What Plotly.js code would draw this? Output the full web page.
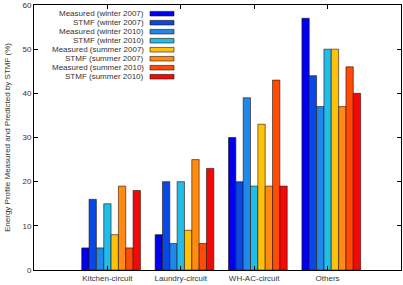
<!DOCTYPE html>
<html>
<head>
<meta charset="utf-8">
<script src="https://cdn.plot.ly/plotly-3.0.1.min.js"></script>
<style>
  html, body { margin: 0; padding: 0; background: #fff; }
  #chart { width: 403px; height: 285px; }
</style>
</head>
<body>
<div id="chart"></div>
<script>
// Circuit categories along the x axis
const categories = ["Kitchen-circuit", "Laundry-circuit", "WH-AC-circuit", "Others"];

// Energy profile share (%) per circuit
const measuredWinter2007 = [5, 8, 30, 57];
const stmfWinter2007     = [16, 20, 20, 44];
const measuredWinter2010 = [5, 6, 39, 37];
const stmfWinter2010     = [15, 20, 19, 50];
const measuredSummer2007 = [8, 9, 33, 50];
const stmfSummer2007     = [19, 25, 19, 37];
const measuredSummer2010 = [5, 6, 43, 46];
const stmfSummer2010     = [18, 23, 19, 40];

const seriesNames = [
  "Measured (winter 2007)", "STMF (winter 2007)",
  "Measured (winter 2010)", "STMF (winter 2010)",
  "Measured (summer 2007)", "STMF (summer 2007)",
  "Measured (summer 2010)", "STMF (summer 2010)"
];
const seriesValues = [
  measuredWinter2007, stmfWinter2007, measuredWinter2010, stmfWinter2010,
  measuredSummer2007, stmfSummer2007, measuredSummer2010, stmfSummer2010
];
const seriesColors = [
  "#0000f0", "#0848e6", "#1e88ec", "#22bce8",
  "#ffc20a", "#ff8a14", "#ff4a08", "#f00a0a"
];

const yTicks = [0, 10, 20, 30, 40, 50, 60];

const xIdx = categories.map((_, i) => i);
const barW = 0.1;
const textColor = "#333";
const fontFamily = "Liberation Sans, Arial, sans-serif";

const traces = seriesValues.map((vals, s) => ({
  type: "bar",
  name: seriesNames[s],
  x: xIdx,
  y: vals,
  width: barW,
  offset: -0.35 + barW * s,
  marker: { color: seriesColors[s], line: { color: "rgba(40,20,0,0.75)", width: 0.8 } },
  showlegend: false,
  hoverinfo: "skip"
}));

// Key drawn in the upper-left corner: right-aligned labels followed by colour boxes
const annotations = [];
const shapes = [];
const W = 403, H = 285;
const mL = 34, mR = 2, mT = 5, mB = 15;
const keyTextX = 146, keyBoxX0 = 150, keyBoxX1 = 174, keyTop = 13.7, keyStep = 9;
const px2x = px => (px - mL) / (W - mL - mR);
const px2y = py => 1 - (py - mT) / (H - mT - mB);
seriesNames.forEach((name, s) => {
  const yc = keyTop + keyStep * s;
  annotations.push({
    xref: "paper", yref: "paper",
    x: px2x(keyTextX), y: px2y(yc),
    xanchor: "right", yanchor: "middle",
    text: name, showarrow: false,
    font: { family: fontFamily, size: 8, color: textColor }
  });
  shapes.push({
    type: "rect", xref: "paper", yref: "paper",
    x0: px2x(keyBoxX0), x1: px2x(keyBoxX1),
    y0: px2y(yc + 2.3), y1: px2y(yc - 2.3),
    fillcolor: seriesColors[s],
    line: { color: "rgba(40,20,0,0.75)", width: 0.8 }
  });
});

const layout = {
  width: W, height: H,
  margin: { l: mL, r: mR, t: mT, b: mB },
  paper_bgcolor: "#fff", plot_bgcolor: "#fff",
  barmode: "overlay",
  font: { family: fontFamily, size: 8, color: textColor },
  xaxis: {
    range: [-1, 4],
    tickvals: xIdx, ticktext: categories,
    showgrid: false, zeroline: false,
    showline: true, linecolor: "#000", linewidth: 1, mirror: "ticks",
    ticks: "inside", ticklen: 4, tickcolor: "#000",
    tickfont: { size: 8, color: textColor }
  },
  yaxis: {
    range: [0, 60],
    tickvals: yTicks,
    showgrid: false, zeroline: false,
    showline: true, linecolor: "#000", linewidth: 1, mirror: "ticks",
    ticks: "inside", ticklen: 4, tickcolor: "#000",
    tickfont: { size: 8, color: textColor },
    title: { text: "Energy Profile Measured and Predicted by STMF (%)", font: { size: 8, color: textColor }, standoff: 10 }
  },
  annotations: annotations,
  shapes: shapes
};

Plotly.newPlot("chart", traces, layout, { staticPlot: true, displayModeBar: false });
</script>
</body>
</html>
